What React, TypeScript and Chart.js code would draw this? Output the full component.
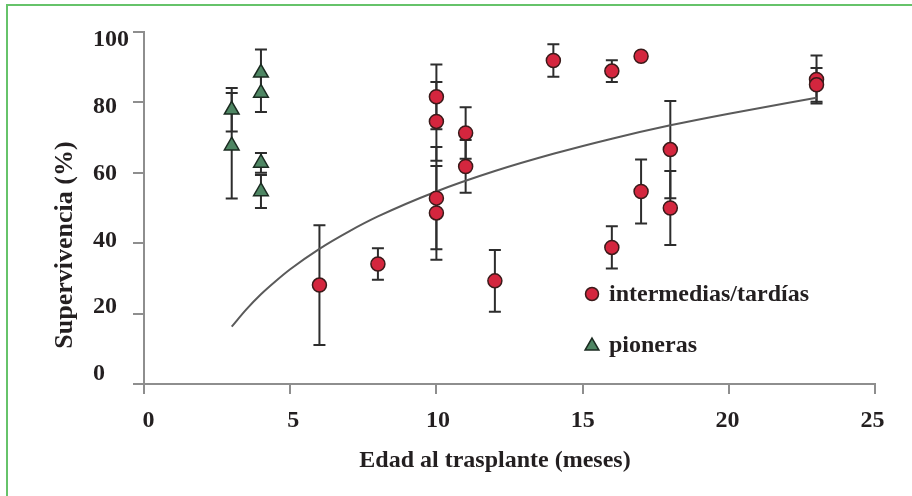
import React, { useEffect, useRef } from "react";
import { Chart, registerables } from "chart.js";

Chart.register(...registerables);

// ---- data ----
const xTickLabels = [0, 5, 10, 15, 20, 25];
const yTickLabels = [0, 20, 40, 60, 80, 100];

const intermediasX = [6, 8, 10, 10, 10, 10, 11, 11, 12, 14, 16, 16, 17, 17, 18, 18, 23, 23];
const intermediasY = [28.1, 34.1, 81.6, 74.6, 52.8, 48.6, 71.3, 61.8, 29.3, 91.9, 88.9, 38.8, 93.1, 54.7, 66.6, 50.0, 86.5, 85.0];
const intermediasErr = [17.0, 4.5, 9.2, 11.2, 14.5, 13.3, 7.3, 7.5, 8.8, 4.6, 3.1, 6.0, 1.0, 9.1, 13.8, 10.5, 6.8, 4.8];

const pionerasX = [3, 3, 4, 4, 4, 4];
const pionerasY = [77.9, 67.7, 88.4, 82.7, 62.8, 54.7];
const pionerasErr = [6.2, 15.0, 6.6, 5.4, 2.8, 4.7];

const curveX = [3, 3.5, 4, 4.5, 5, 6, 7, 8, 10, 12, 14, 16, 18, 20, 23];
const curveY = [16.3, 21.2, 25.5, 29.2, 32.6, 38.4, 43.3, 47.6, 54.7, 60.5, 65.4, 69.7, 73.5, 76.8, 81.3];

const xTitle = "Edad al trasplante (meses)";
const yTitle = "Supervivencia (%)";
const legendLabels = ["intermedias/tardías", "pioneras"];

// ---- styles ----
const FONT_FAMILY = "'Liberation Serif', 'Times New Roman', serif";
const TEXT = "#231f20";
const AXIS = "#8e8e8e";
const RED = "#d4263e";
const RED_BORDER = "#3b1a1a";
const GREEN = "#4e8663";
const GREEN_BORDER = "#1b2b21";

const errorBarsPlugin = {
  id: "errorBars",
  beforeDatasetsDraw(chart: any) {
    const { ctx, scales } = chart;
    const xs = scales.x;
    const ys = scales.y;
    const groups: [number[], number[], number[]][] = [
      [intermediasX, intermediasY, intermediasErr],
      [pionerasX, pionerasY, pionerasErr],
    ];
    ctx.save();
    ctx.strokeStyle = "#2d2d2d";
    ctx.lineWidth = 2;
    groups.forEach(([gx, gy, ge]) => {
      gx.forEach((xv, i) => {
        const px = xs.getPixelForValue(xv);
        const top = ys.getPixelForValue(gy[i] + ge[i]);
        const bot = ys.getPixelForValue(gy[i] - ge[i]);
        ctx.beginPath();
        ctx.moveTo(px, top);
        ctx.lineTo(px, bot);
        ctx.moveTo(px - 6, top);
        ctx.lineTo(px + 6, top);
        ctx.moveTo(px - 6, bot);
        ctx.lineTo(px + 6, bot);
        ctx.stroke();
      });
    });
    ctx.restore();
  },
};

const textPlugin = {
  id: "textExtras",
  afterDraw(chart: any) {
    const { ctx } = chart;
    ctx.save();
    ctx.fillStyle = TEXT;
    ctx.font = `bold 24px ${FONT_FAMILY}`;
    // x title
    ctx.textAlign = "center";
    ctx.textBaseline = "alphabetic";
    ctx.fillText(xTitle, 495, 467);
    // y title
    ctx.save();
    ctx.font = `bold 26px ${FONT_FAMILY}`;
    ctx.translate(72, 245);
    ctx.rotate(-Math.PI / 2);
    ctx.fillText(yTitle, 0, 0);
    ctx.restore();
    // legend
    ctx.textAlign = "left";
    ctx.fillText(legendLabels[0], 609, 301);
    ctx.fillText(legendLabels[1], 609, 352);
    // circle marker
    ctx.lineWidth = 1.5;
    ctx.beginPath();
    ctx.arc(592, 294, 6.5, 0, Math.PI * 2);
    ctx.fillStyle = RED;
    ctx.fill();
    ctx.strokeStyle = RED_BORDER;
    ctx.stroke();
    // triangle marker
    const r = 8;
    const cx = 592;
    const cy = 346;
    ctx.beginPath();
    ctx.moveTo(cx, cy - r);
    ctx.lineTo(cx + r * 0.866, cy + r / 2);
    ctx.lineTo(cx - r * 0.866, cy + r / 2);
    ctx.closePath();
    ctx.fillStyle = GREEN;
    ctx.fill();
    ctx.strokeStyle = GREEN_BORDER;
    ctx.stroke();
    ctx.restore();
  },
};

const tickFont = { family: FONT_FAMILY, size: 24, weight: "bold" as const };

export default function App() {
  const ref = useRef<HTMLCanvasElement>(null);

  useEffect(() => {
    const canvas = ref.current;
    if (!canvas) return;
    const chart = new Chart(canvas, {
      type: "scatter",
      data: {
        datasets: [
          {
            label: legendLabels[0],
            data: intermediasX.map((x, i) => ({ x, y: intermediasY[i] })),
            pointStyle: "circle",
            pointRadius: 7,
            backgroundColor: RED,
            borderColor: RED_BORDER,
            borderWidth: 1.5,
            xAxisID: "x",
            yAxisID: "y",
          },
          {
            label: legendLabels[1],
            data: pionerasX.map((x, i) => ({ x, y: pionerasY[i] })),
            pointStyle: "triangle",
            pointRadius: 8.5,
            backgroundColor: GREEN,
            borderColor: GREEN_BORDER,
            borderWidth: 1.5,
            xAxisID: "x",
            yAxisID: "y",
          },
          {
            label: "ajuste",
            data: curveX.map((x, i) => ({ x, y: curveY[i] })),
            showLine: true,
            pointRadius: 0,
            borderColor: "#5a5a5a",
            borderWidth: 2,
            cubicInterpolationMode: "monotone",
            xAxisID: "x",
            yAxisID: "y",
          },
        ],
      },
      options: {
        responsive: false,
        animation: false,
        layout: { padding: { left: 93, top: 32, right: 37, bottom: 0 } },
        plugins: { legend: { display: false }, tooltip: { enabled: false } },
        scales: {
          x: {
            type: "linear",
            position: "bottom",
            min: 0,
            max: 25,
            weight: 0,
            afterBuildTicks: (s: any) => {
              s.ticks = xTickLabels.map((v) => ({ value: v }));
            },
            afterFit: (s: any) => {
              s.height = 10;
            },
            ticks: { display: false },
            grid: { drawOnChartArea: false, drawTicks: true, tickLength: 10, color: AXIS, lineWidth: 2 },
            border: { display: true, color: AXIS, width: 2 },
          },
          x2: {
            type: "linear",
            position: "bottom",
            min: -0.155,
            max: 25.09,
            weight: 1,
            afterBuildTicks: (s: any) => {
              s.ticks = xTickLabels.map((v) => ({ value: v }));
            },
            afterFit: (s: any) => {
              s.height = 102;
            },
            ticks: { display: true, padding: 12, font: tickFont, color: TEXT, maxRotation: 0 },
            grid: { display: false, drawTicks: false },
            border: { display: false },
          },
          y: {
            type: "linear",
            position: "left",
            min: 0,
            max: 100,
            weight: 0,
            afterBuildTicks: (s: any) => {
              s.ticks = yTickLabels.map((v) => ({ value: v }));
            },
            afterFit: (s: any) => {
              s.width = 11;
            },
            ticks: { display: false },
            grid: { drawOnChartArea: false, drawTicks: true, tickLength: 11, color: AXIS, lineWidth: 2 },
            border: { display: true, color: AXIS, width: 2 },
          },
          y2: {
            type: "linear",
            position: "left",
            min: -3.0,
            max: 102.4,
            weight: 1,
            afterBuildTicks: (s: any) => {
              s.ticks = yTickLabels.map((v) => ({ value: v }));
            },
            afterFit: (s: any) => {
              s.width = 40;
            },
            ticks: { display: true, crossAlign: "far", padding: 0, font: tickFont, color: TEXT },
            grid: { display: false, drawTicks: false },
            border: { display: false },
          },
        },
      } as any,
      plugins: [errorBarsPlugin, textPlugin],
    });
    return () => chart.destroy();
  }, []);

  return (
    <div
      style={{
        position: "fixed",
        left: 0,
        top: 0,
        width: 912,
        height: 496,
        overflow: "hidden",
        background: "#ffffff",
      }}
    >
      <div
        style={{
          position: "absolute",
          left: 6,
          top: 4,
          width: 2000,
          height: 2000,
          borderTop: "2px solid #66c36a",
          borderLeft: "2px solid #66c36a",
        }}
      />
      <canvas
        ref={ref}
        width={912}
        height={496}
        style={{ position: "absolute", left: 0, top: 0, width: 912, height: 496 }}
      />
    </div>
  );
}
